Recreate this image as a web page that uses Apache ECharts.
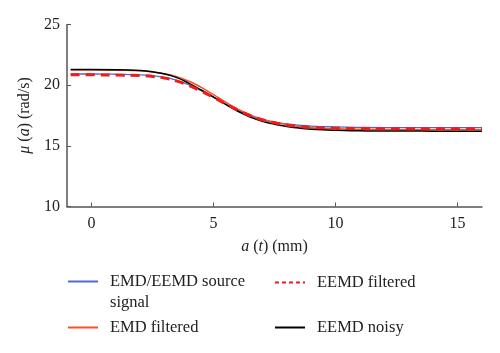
<!DOCTYPE html>
<html><head><meta charset="utf-8">
<script src="https://cdn.jsdelivr.net/npm/echarts@6/dist/echarts.min.js"></script>
<style>html,body{margin:0;padding:0;background:#fff}#c{width:500px;height:353px}</style>
</head><body><div id="c"></div>
<script>
const xValues = [-0.85, 0, 1, 2, 2.5, 3, 3.5, 4, 4.5, 5, 5.5, 6, 6.5, 7, 7.5, 8, 8.5, 9, 10, 11, 12, 13, 14, 15, 16];
const sourceSignal = [20.92, 20.92, 20.9, 20.85, 20.78, 20.65, 20.4, 20.02, 19.55, 19.02, 18.45, 17.92, 17.47, 17.15, 16.95, 16.8, 16.7, 16.63, 16.56, 16.52, 16.5, 16.5, 16.5, 16.5, 16.5];
const emdFiltered = [21.25, 21.25, 21.23, 21.18, 21.08, 20.95, 20.7, 20.32, 19.82, 19.22, 18.6, 18.02, 17.55, 17.2, 16.95, 16.75, 16.6, 16.5, 16.4, 16.36, 16.34, 16.33, 16.33, 16.33, 16.33];
const eemdFiltered = [20.85, 20.85, 20.83, 20.8, 20.72, 20.58, 20.33, 19.97, 19.5, 19.0, 18.45, 17.95, 17.5, 17.15, 16.9, 16.72, 16.6, 16.52, 16.45, 16.42, 16.4, 16.4, 16.4, 16.4, 16.4];
const eemdNoisy = [21.3, 21.3, 21.28, 21.2, 21.1, 20.92, 20.62, 20.15, 19.6, 19.02, 18.42, 17.85, 17.38, 17.02, 16.78, 16.6, 16.46, 16.37, 16.28, 16.24, 16.22, 16.22, 16.21, 16.21, 16.2];
const xTicks = [0, 5, 10, 15];
const seriesNames = ['EMD/EEMD source\nsignal', 'EMD filtered', 'EEMD filtered', 'EEMD noisy'];

const pair = arr => xValues.map((x, i) => [x, arr[i]]);
const font = 'Liberation Serif';
const chart = echarts.init(document.getElementById('c'), null, {renderer: 'canvas'});
const legendBase = {
  orient: 'vertical', itemWidth: 30, itemHeight: 14, itemGap: 0, padding: 0,
  itemStyle: {opacity: 0},
  textStyle: {fontFamily: font, fontSize: 16.5, color: '#222', lineHeight: 21, padding: [0, 0, 0, 7]}
};
const mkLegend = (i, left, top, extra) => Object.assign({}, legendBase, {
  data: [seriesNames[i]], left: left, top: top
}, extra || {});
chart.setOption({
  animation: false,
  grid: {left: 67, right: 18, top: 24.5, bottom: 146.5},
  xAxis: {
    type: 'value', min: -1, max: 16,
    name: '{i|a} ({i|t}) (mm)', nameLocation: 'middle', nameGap: 32,
    nameTextStyle: {fontFamily: font, fontSize: 16, color: '#222',
      rich: {i: {fontFamily: font, fontSize: 16, fontStyle: 'italic', color: '#222'}}},
    axisLine: {onZero: false, lineStyle: {color: '#555', width: 1.5}},
    axisTick: {inside: true, length: 4, customValues: xTicks, lineStyle: {color: '#555'}},
    axisLabel: {customValues: xTicks, margin: 9, fontFamily: font, fontSize: 16, color: '#222'},
    splitLine: {show: false}
  },
  yAxis: {
    type: 'value', min: 10, max: 25, interval: 5,
    name: '{i|μ} ({i|a}) (rad/s)', nameLocation: 'middle', nameGap: 29,
    nameTextStyle: {fontFamily: font, fontSize: 16, color: '#222',
      rich: {i: {fontFamily: font, fontSize: 16, fontStyle: 'italic', color: '#222'}}},
    axisLine: {show: true, onZero: false, lineStyle: {color: '#555', width: 1.5}},
    axisTick: {show: true, inside: true, length: 4, lineStyle: {color: '#555'}},
    axisLabel: {margin: 7, fontFamily: font, fontSize: 16, color: '#222'},
    splitLine: {show: false}
  },
  legend: [
    mkLegend(0, 67, 250, {formatter: name => '\n' + name}),
    mkLegend(1, 67, 317),
    mkLegend(2, 274, 272, {lineStyle: {type: [4, 3], width: 2}}),
    mkLegend(3, 274, 317)
  ],
  series: [
    {name: seriesNames[0], type: 'line', data: pair(sourceSignal), smooth: true, symbol: 'none',
      lineStyle: {color: '#5468cc', width: 1.3}, itemStyle: {color: '#5468cc'}, z: 2},
    {name: seriesNames[1], type: 'line', data: pair(emdFiltered), smooth: true, symbol: 'none',
      lineStyle: {color: '#f5502a', width: 1.5}, itemStyle: {color: '#f5502a'}, z: 3},
    {name: seriesNames[2], type: 'line', data: pair(eemdFiltered), smooth: true, symbol: 'none',
      lineStyle: {color: '#ee1c1c', width: 3, type: [9, 6]}, itemStyle: {color: '#ee1c1c'}, z: 5},
    {name: seriesNames[3], type: 'line', data: pair(eemdNoisy), smooth: true, symbol: 'none',
      lineStyle: {color: '#000', width: 1.5}, itemStyle: {color: '#000'}, z: 4}
  ]
});
</script></body></html>
